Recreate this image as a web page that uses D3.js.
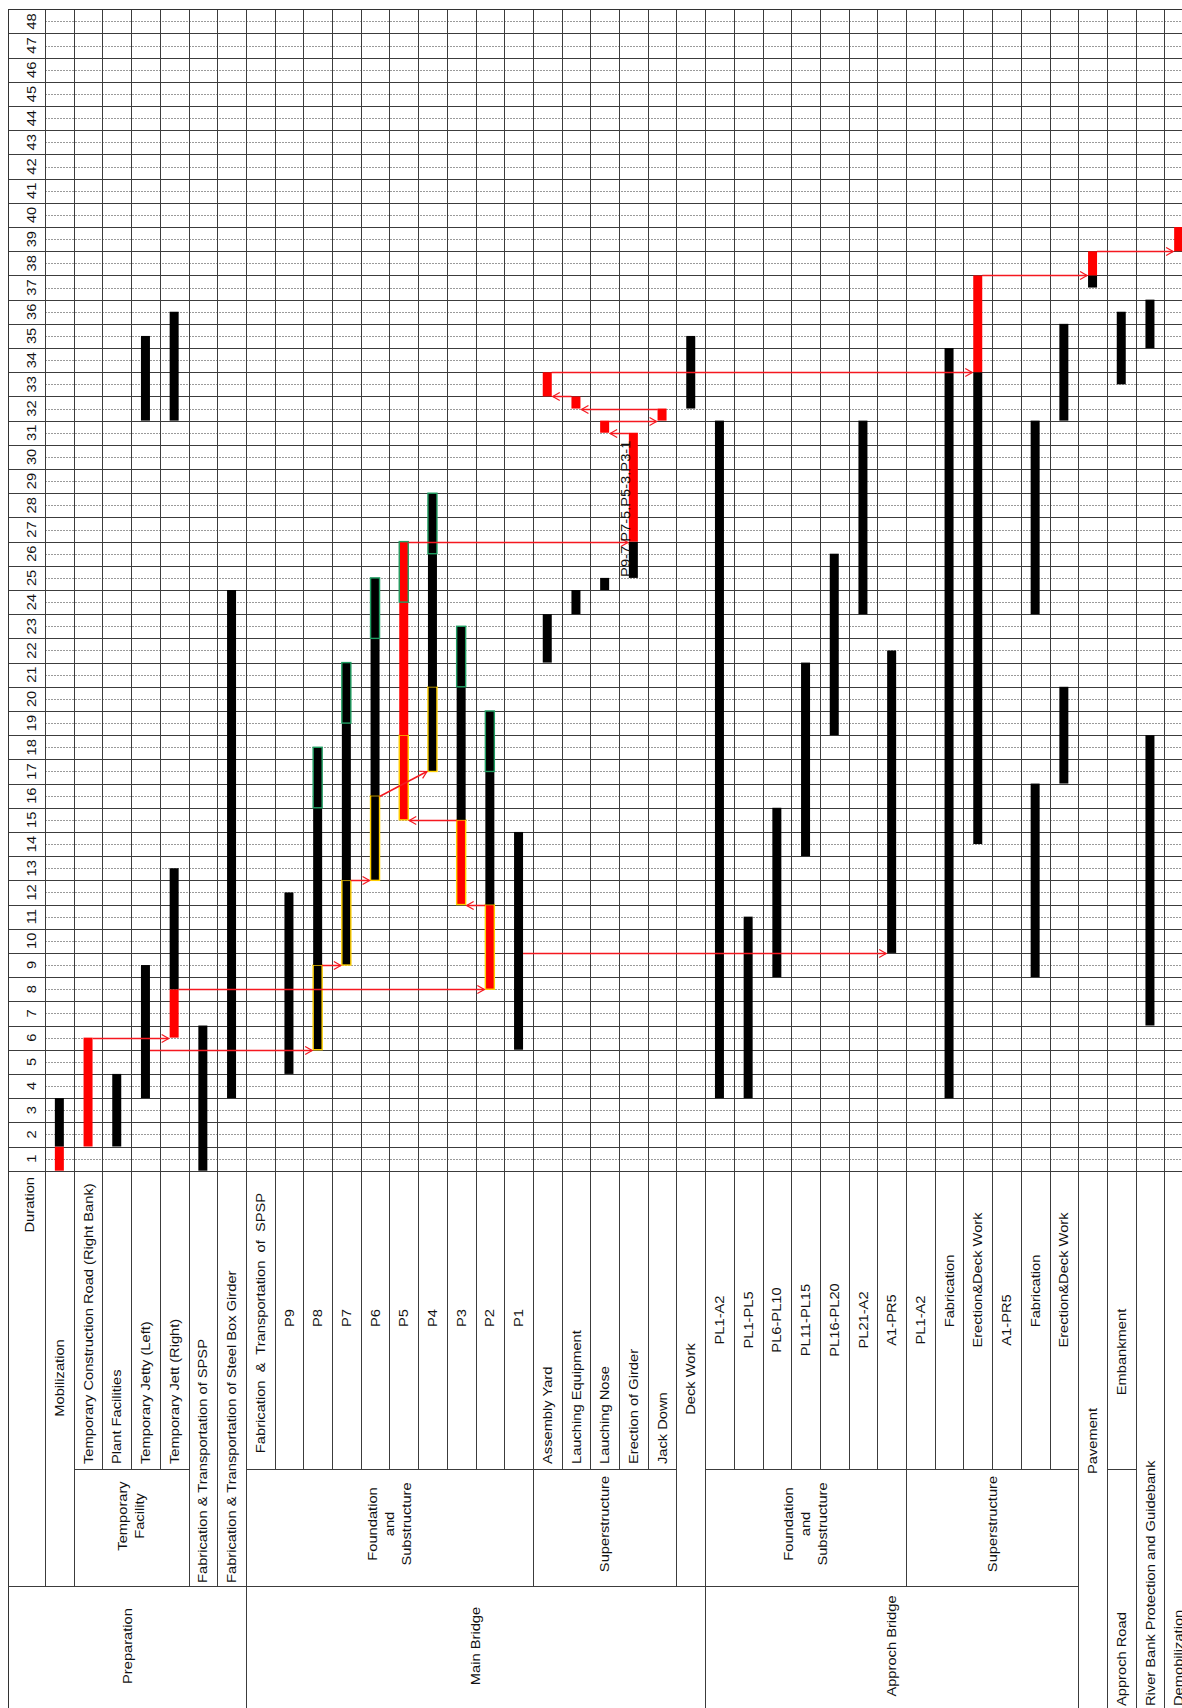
<!DOCTYPE html>
<html>
<head>
<meta charset="utf-8">
<script src="https://cdn.jsdelivr.net/npm/d3@7"></script>
<style>
  html, body { margin: 0; padding: 0; background: #fff; }
  svg { display: block; }
  text { font-family: "Liberation Sans", Arial, sans-serif; font-size: 13px; fill: #111; white-space: pre; }
</style>
</head>
<body>
<svg id="chart" width="1182" height="1708"></svg>
<script>
// ---- schedule data -------------------------------------------------------

// work items, one per row, in schedule order
const rows = [
  "Mobilization",
  "Temporary Construction Road (Right Bank)",
  "Plant Facilities",
  "Temporary Jetty (Left)",
  "Temporary Jett (Right)",
  "Fabrication & Transportation of SPSP",
  "Fabrication & Transportation of Steel Box Girder",
  "Fabrication  &  Transportation  of  SPSP",
  "P9", "P8", "P7", "P6", "P5", "P4", "P3", "P2", "P1",
  "Assembly Yard", "Lauching Equipment", "Lauching Nose", "Erection of Girder", "Jack Down",
  "Deck Work",
  "PL1-A2", "PL1-PL5", "PL6-PL10", "PL11-PL15", "PL16-PL20", "PL21-A2", "A1-PR5",
  "PL1-A2", "Fabrication", "Erection&Deck Work", "A1-PR5", "Fabrication", "Erection&Deck Work",
  "Pavement", "Embankment",
  "River Bank Protection and Guidebank",
  "Demobilization"
];

// duration periods (months)
const durationTicks = [1, 2, 3, 4, 5, 6, 7, 8, 9, 10, 11, 12, 13, 14, 15, 16, 17, 18, 19, 20,
  21, 22, 23, 24, 25, 26, 27, 28, 29, 30, 31, 32, 33, 34, 35, 36, 37, 38, 39, 40,
  41, 42, 43, 44, 45, 46, 47, 48];

// top-level work groups [label, first row, last row]
const mainGroups = [
  ["Preparation", 0, 6],
  ["Main Bridge", 7, 22],
  ["Approch Bridge", 23, 35]
];

// second-level groups [label lines, first row, last row]
const subGroups = [
  [["Temporary", "Facility"], 1, 4],
  [["Foundation", "and", "Substructure"], 7, 16],
  [["Superstructure"], 17, 21],
  [["Foundation", "and", "Substructure"], 23, 29],
  [["Superstructure"], 30, 35]
];

// extra group label sharing the Embankment row
const roadGroup = ["Approch Road", 37];

// activity segments: [row, start, finish, path, stage]
//   path : "crit" = critical path, "norm" = other work
//   stage: "pile" = foundation, "pier" = pier body, "cap" = pier head, "" = n/a
const segments = [
  [0, 0, 1, "crit", ""], [0, 1, 3, "norm", ""],
  [1, 1, 5.5, "crit", ""],
  [2, 1, 4, "norm", ""],
  [3, 3, 8.5, "norm", ""], [3, 31, 34.5, "norm", ""],
  [4, 5.5, 7.5, "crit", ""], [4, 7.5, 12.5, "norm", ""], [4, 31, 35.5, "norm", ""],
  [5, 0, 6, "norm", ""],
  [6, 3, 24, "norm", ""],
  [8, 4, 11.5, "norm", ""],
  [9, 5, 8.5, "norm", "pile"], [9, 8.5, 15, "norm", "pier"], [9, 15, 17.5, "norm", "cap"],
  [10, 8.5, 12, "norm", "pile"], [10, 12, 18.5, "norm", "pier"], [10, 18.5, 21, "norm", "cap"],
  [11, 12, 15.5, "norm", "pile"], [11, 15.5, 22, "norm", "pier"], [11, 22, 24.5, "norm", "cap"],
  [12, 14.5, 18, "crit", "pile"], [12, 18, 23.5, "crit", "pier"], [12, 23.5, 26, "crit", "cap"],
  [13, 16.5, 20, "norm", "pile"], [13, 20, 25.5, "norm", "pier"], [13, 25.5, 28, "norm", "cap"],
  [14, 11, 14.5, "crit", "pile"], [14, 14.5, 20, "norm", "pier"], [14, 20, 22.5, "norm", "cap"],
  [15, 7.5, 11, "crit", "pile"], [15, 11, 16.5, "norm", "pier"], [15, 16.5, 19, "norm", "cap"],
  [16, 5, 14, "norm", ""],
  [17, 21, 23, "norm", ""], [17, 32, 33, "crit", ""],
  [18, 23, 24, "norm", ""], [18, 31.5, 32, "crit", ""],
  [19, 24, 24.5, "norm", ""], [19, 30.5, 31, "crit", ""],
  [20, 24.5, 26, "norm", ""], [20, 26, 30.5, "crit", ""],
  [21, 31, 31.5, "crit", ""],
  [22, 31.5, 34.5, "norm", ""],
  [23, 3, 31, "norm", ""],
  [24, 3, 10.5, "norm", ""],
  [25, 8, 15, "norm", ""],
  [26, 13, 21, "norm", ""],
  [27, 18, 25.5, "norm", ""],
  [28, 23, 31, "norm", ""],
  [29, 9, 21.5, "norm", ""],
  [31, 3, 34, "norm", ""],
  [32, 13.5, 33, "norm", ""], [32, 33, 37, "crit", ""],
  [34, 8, 16, "norm", ""], [34, 23, 31, "norm", ""],
  [35, 16, 20, "norm", ""], [35, 31, 35, "norm", ""],
  [36, 36.5, 37, "norm", ""], [36, 37, 38, "crit", ""],
  [37, 32.5, 35.5, "norm", ""],
  [38, 6, 18, "norm", ""], [38, 34, 36, "norm", ""],
  [39, 38, 39, "crit", ""]
];

// logic links: [from row, at, to row, at]
const links = [
  [1, 5.5, 4, 5.5],
  [3, 5, 9, 5],
  [4, 7.5, 15, 7.5],
  [9, 8.5, 10, 8.5],
  [10, 12, 11, 12],
  [11, 15.5, 13, 16.5],
  [14, 14.5, 12, 14.5],
  [15, 11, 14, 11],
  [16, 9, 29, 9],
  [12, 26, 20, 26],
  [20, 30.5, 19, 30.5],
  [19, 31, 21, 31],
  [21, 31.5, 18, 31.5],
  [18, 32, 17, 32],
  [17, 33, 32, 33],
  [32, 37, 36, 37],
  [36, 38, 39, 38]
];

// girder launching sequence note
const girderNote = ["P9-7.P7-5.P5-3.P3-1", 20, 24.5];

// ---- layout ---------------------------------------------------------------
const W = 1182;
const LEFT = 8, TOP = 9.3, BASE = 1170.7, COL0 = 45, ROWW = 28.7;
const H1 = 1469, H2 = 1586, H3 = 1708;   // header tier borders
const SX = 1.13;                          // horizontal glyph stretch of rotated text
const BAR = 9;

const svg = d3.select("#chart");

const x = d3.scaleBand()
  .domain(d3.range(rows.length))
  .range([COL0, COL0 + rows.length * ROWW]);
const xc = i => x(i) + x.bandwidth() / 2;
const xb = b => COL0 + b * ROWW;          // boundary before row b

const y = d3.scaleLinear().domain([0, 48]).range([BASE, TOP]);
const yPix = v => Math.round(y(v)) + 0.5; // pixel-aligned y for hairlines
const yCell = d3.scaleBand().domain(durationTicks).range([BASE, TOP]);

// rotated (bottom-to-top) label
function vtext(g, px, py, str, anchor, dy) {
  return g.append("text")
    .attr("transform", `translate(${px},${py}) rotate(-90) scale(${SX},1)`)
    .attr("text-anchor", anchor)
    .attr("dy", dy === undefined ? "0.35em" : dy)
    .text(str);
}

// ---- grid -----------------------------------------------------------------
const grid = svg.append("g").attr("shape-rendering", "crispEdges");

grid.selectAll("line.half").data(durationTicks).join("line")
  .attr("class", "half")
  .attr("x1", COL0).attr("x2", W)
  .attr("y1", d => yPix(d - 0.5)).attr("y2", d => yPix(d - 0.5))
  .attr("stroke", "#9a9a9a").attr("stroke-width", 1).attr("stroke-dasharray", "2,1");

grid.selectAll("line.full").data([0].concat(durationTicks)).join("line")
  .attr("class", "full")
  .attr("x1", LEFT).attr("x2", W)
  .attr("y1", d => yPix(d)).attr("y2", d => yPix(d))
  .attr("stroke", "#3c3c3c").attr("stroke-width", 1);

// row boundaries, running down into the header as far as their cells reach
const toBottom = new Set([7, 23, 36, 37, 38, 39, 40]);
const toTier2 = new Set([0, 1, 5, 6, 17, 22, 30]);
grid.selectAll("line.col").data(d3.range(rows.length + 1)).join("line")
  .attr("class", "col")
  .attr("x1", b => Math.round(xb(b)) + 0.5).attr("x2", b => Math.round(xb(b)) + 0.5)
  .attr("y1", TOP)
  .attr("y2", b => toBottom.has(b) ? H3 : toTier2.has(b) ? H2 : H1)
  .attr("stroke", "#3c3c3c").attr("stroke-width", 1.2);

// outer frame
grid.append("line").attr("x1", LEFT + 0.5).attr("x2", LEFT + 0.5).attr("y1", TOP).attr("y2", H3)
  .attr("stroke", "#333").attr("stroke-width", 1.3);
grid.append("line").attr("x1", LEFT).attr("x2", W).attr("y1", Math.round(TOP) + 0.5).attr("y2", Math.round(TOP) + 0.5)
  .attr("stroke", "#333").attr("stroke-width", 1.3);

// header tier borders
const tier3Rows = d3.range(1, 5).concat(d3.range(7, 22), d3.range(23, 36), [37]);
grid.selectAll("line.t1").data(tier3Rows).join("line")
  .attr("x1", i => xb(i)).attr("x2", i => xb(i + 1))
  .attr("y1", H1 + 0.5).attr("y2", H1 + 0.5)
  .attr("stroke", "#3c3c3c").attr("stroke-width", 1.2);
grid.append("line").attr("x1", LEFT).attr("x2", xb(36))
  .attr("y1", H2 + 0.5).attr("y2", H2 + 0.5)
  .attr("stroke", "#3c3c3c").attr("stroke-width", 1.2);

// ---- duration axis --------------------------------------------------------
const axisG = svg.append("g").attr("transform", "translate(31,0)")
  .call(d3.axisLeft(yCell).tickSize(0).tickPadding(0));
axisG.select(".domain").remove();
axisG.attr("font-family", null).attr("font-size", null);
axisG.selectAll("text")
  .attr("x", 0)
  .attr("dy", "0.35em")
  .attr("text-anchor", "middle")
  .attr("transform", `rotate(-90) scale(${SX},1)`);

const head = svg.append("g");
vtext(head, 29, 1177, "Duration", "end");

// ---- item labels ----------------------------------------------------------
function itemPlace(i) {
  if (i === 0) return [1378, "middle"];
  if (i >= 1 && i <= 4) return [1464, "start"];
  if (i === 5 || i === 6) return [1583, "start"];
  if (i === 7) return [1323, "middle"];
  if (i >= 8 && i <= 16) return [1318, "middle"];
  if (i >= 17 && i <= 21) return [1464, "start"];
  if (i === 22) return [1379, "middle"];
  if (i === 31 || i === 34) return [1291, "middle"];
  if (i === 32 || i === 35) return [1280, "middle"];
  if (i === 36) return [1441, "middle"];
  if (i === 37) return [1352, "middle"];
  if (i >= 38) return [1706, "start"];
  return [1320, "middle"];
}
rows.forEach((r, i) => {
  const [py, a] = itemPlace(i);
  vtext(head, xc(i), py, r, a);
});

subGroups.forEach(([lines, a, b]) => {
  const cx = (xb(a) + xb(b + 1)) / 2;
  const cy = a === 1 ? 1516 : 1524;
  lines.forEach((ln, k) => vtext(head, cx + (k - (lines.length - 1) / 2) * 17, cy, ln, "middle"));
});

mainGroups.forEach(([label, a, b]) => {
  const x0 = a === 0 ? LEFT : xb(a);
  vtext(head, (x0 + xb(b + 1)) / 2, 1646, label, "middle");
});
vtext(head, xc(roadGroup[1]), 1706, roadGroup[0], "start");

// ---- bars -----------------------------------------------------------------
const fillOf = { crit: "#ff0000", norm: "#000000" };
const edgeOf = { pile: "#ffd000", cap: "#1f9e62" };

svg.append("g").selectAll("rect").data(segments).join("rect")
  .attr("x", d => xc(d[0]) - BAR / 2)
  .attr("width", BAR)
  .attr("y", d => y(d[2]))
  .attr("height", d => y(d[1]) - y(d[2]))
  .attr("fill", d => fillOf[d[3]])
  .attr("stroke", d => edgeOf[d[4]] || "none")
  .attr("stroke-width", 1.4);

// ---- logic links ----------------------------------------------------------
const defs = svg.append("defs");
defs.append("marker")
  .attr("id", "head").attr("markerUnits", "userSpaceOnUse")
  .attr("markerWidth", 10).attr("markerHeight", 10)
  .attr("refX", 8).attr("refY", 5).attr("orient", "auto")
  .append("path").attr("d", "M1,1 L8,5 L1,9")
  .attr("fill", "none").attr("stroke", "#f51820").attr("stroke-width", 1.2);

svg.append("g").selectAll("line").data(links).join("line")
  .attr("x1", d => xc(d[0]) + (d[2] > d[0] ? BAR / 2 : -BAR / 2))
  .attr("y1", d => yPix(d[1]))
  .attr("x2", d => xc(d[2]) + (d[2] > d[0] ? -BAR / 2 - 1 : BAR / 2 + 1))
  .attr("y2", d => yPix(d[3]))
  .attr("stroke", "#f51820").attr("stroke-width", 1.5)
  .attr("marker-end", "url(#head)");

// launching sequence note along the girder erection bar
svg.append("text")
  .attr("transform", `translate(${xc(girderNote[1]) - 3},${y(girderNote[2]) - 1}) rotate(-90) scale(${SX},1)`)
  .attr("text-anchor", "start")
  .text(girderNote[0]);
</script>
</body>
</html>
